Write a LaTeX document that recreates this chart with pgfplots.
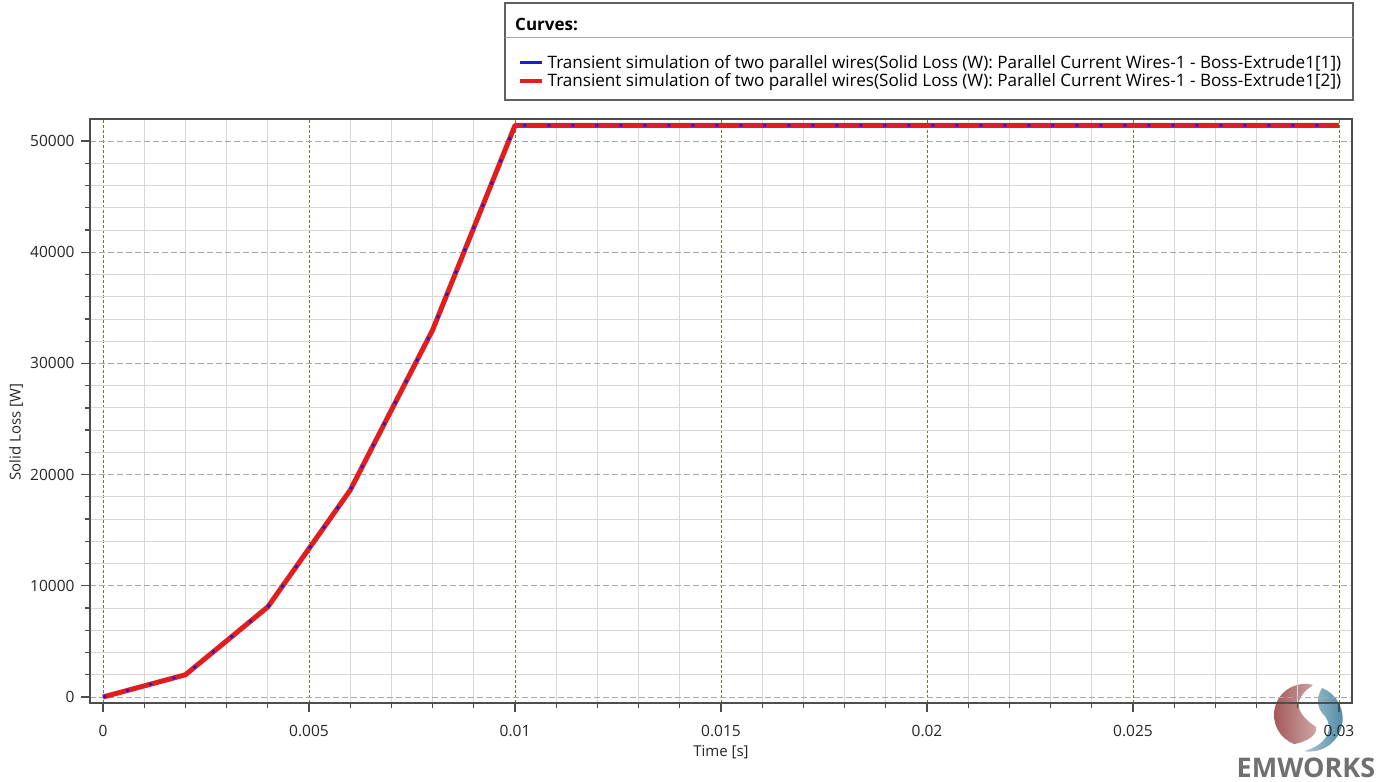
\documentclass[border=0pt]{standalone}
\usepackage{fontspec}
\setmainfont{Open Sans}
\usepackage{pgfplots}
\pgfplotsset{compat=1.18}
\definecolor{axisgray}{HTML}{4D4D4D}
\definecolor{olivegrid}{HTML}{6E7A30}
\definecolor{minorgrid}{HTML}{D8D8D8}
\definecolor{majorygrid}{HTML}{A8A8A8}
\definecolor{seriesblue}{HTML}{1A1AE6}
\definecolor{seriesred}{HTML}{E01E1E}
\definecolor{logored}{HTML}{9C4A4A}
\definecolor{logoblue}{HTML}{3F7E9C}
\definecolor{logotext}{HTML}{707070}
\definecolor{legendgray}{HTML}{606060}

\begin{document}
\begin{tikzpicture}
\useasboundingbox (0,0) rectangle (1394bp,-782bp);
\begin{scope}[x=1bp,y=-1bp]
  % logo (drawn first, so the axis and its labels lie on top)
  \shade[left color=logored, right color=logored!50!white, opacity=0.95]
    (1313,685) arc[start angle=285, end angle=110, radius=31]
    .. controls (1305,742) and (1318,736) .. (1316,727)
    .. controls (1300,716) and (1288,702) .. (1313,685) -- cycle;
  \shade[right color=logoblue, left color=logoblue!45!white, opacity=0.95]
    (1322,688) arc[start angle=292, end angle=460, radius=33]
    .. controls (1328,745) and (1336,726) .. (1322,713)
    .. controls (1317,706) and (1316,698) .. (1322,688) -- cycle;
  \node[anchor=base, inner sep=0pt, text=logotext, font=\fontsize{27bp}{30bp}\selectfont\bfseries] at (1306,777) {EMWORKS};
\end{scope}
\begin{axis}[
  at={(90bp,-703bp)}, anchor=south west,
  width=1262bp, height=584bp, scale only axis,
  xmin=-0.000316, xmax=0.030316, ymin=-540, ymax=51978,
  scaled ticks=false,
  xtick={0,0.005,0.01,0.015,0.02,0.025,0.03},
  xticklabels={0,0.005,0.01,0.015,0.02,0.025,0.03},
  ytick={0,10000,20000,30000,40000,50000},
  yticklabels={0,10000,20000,30000,40000,50000},
  minor x tick num=4, minor y tick num=4,
  xtick pos=bottom, ytick pos=left, tick align=outside,
  major tick length=9bp, minor tick length=5bp,
  every tick/.style={axisgray, line width=1.3bp},
  axis line style={axisgray, line width=1.6bp},
  grid=both,
  minor grid style={minorgrid, line width=0.8bp},
  major x grid style={olivegrid, line width=0.9bp, dash pattern=on 3bp off 2bp},
  major y grid style={majorygrid, line width=0.9bp, dash pattern=on 6bp off 3bp},
  ticklabel style={font=\fontsize{15.5bp}{18bp}\selectfont, text=black!85},
  xticklabel style={yshift=-10bp},
  yticklabel style={xshift=-3bp},
  xlabel={Time [s]}, ylabel={Solid Loss [W]},
  label style={font=\fontsize{15bp}{17bp}\selectfont, text=black!85},
  xlabel style={at={(axis description cs:0.5,0)}, anchor=center, yshift=-49bp},
  ylabel style={at={(axis description cs:0,0.464)}, anchor=center, yshift=74bp},
  legend style={at={(axis description cs:0.3391,1.1131)}, anchor=north west,
    draw=none, fill=none, font=\fontsize{17.1bp}{20bp}\selectfont,
    inner sep=0pt, row sep=0bp, /tikz/column sep=2bp},
  legend cell align=left,
  legend image code/.code={\draw[#1, line width=3.5bp] (0bp,0bp) -- (22bp,0bp);},
]
\addlegendimage{seriesblue}
\addlegendentry{Transient simulation of two parallel wires(Solid Loss (W): Parallel Current Wires-1 - Boss-Extrude1[1])}
\addlegendimage{seriesred}
\addlegendentry{Transient simulation of two parallel wires(Solid Loss (W): Parallel Current Wires-1 - Boss-Extrude1[2])}
\addplot[seriesred, line width=5bp, line join=round, forget plot] coordinates {
  (0,0) (0.002,2000) (0.004,8100) (0.006,18600) (0.008,33000) (0.01,51400)
  (0.015,51400) (0.02,51400) (0.025,51400) (0.03,51400)};
\addplot[seriesblue, line width=2.6bp, dash pattern=on 3bp off 21bp, forget plot] coordinates {
  (0,0) (0.002,2000) (0.004,8100) (0.006,18600) (0.008,33000) (0.01,51400)
  (0.015,51400) (0.02,51400) (0.025,51400) (0.03,51400)};
\end{axis}
\begin{scope}[x=1bp,y=-1bp]
  % legend frame
  \draw[legendgray, line width=1.6bp] (505,3) rectangle (1353,100);
  \draw[gray!70, line width=1bp] (505,37) -- (1353,37);
  \node[anchor=west, inner sep=0pt, font=\fontsize{17bp}{20bp}\selectfont\bfseries] at (515,24) {Curves:};
\end{scope}
\end{tikzpicture}
\end{document}
